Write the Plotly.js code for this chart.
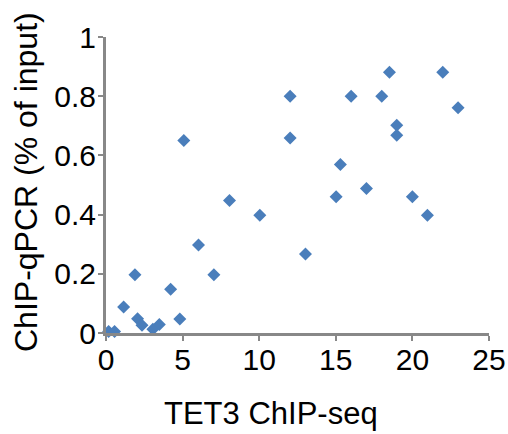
<!DOCTYPE html>
<html>
<head>
<meta charset="utf-8">
<script src="https://cdn.plot.ly/plotly-3.0.1.min.js"></script>
<style>html,body{margin:0;padding:0;background:#fff;}#chart{width:508px;height:434px;}</style>
</head>
<body>
<div id="chart"></div>
<script>
const tet3ChipSeq = [0.17, 0.56, 1.15, 1.89, 2.06, 2.35, 3.06, 3.48, 4.22, 4.82, 5.08, 6.04, 7.04, 8.06, 10.04, 12.02, 12.02, 13.02, 15.02, 15.3, 16.0, 17.0, 18.0, 18.5, 18.98, 18.98, 20.0, 20.98, 21.98, 22.98];
const chipQpcr = [0.005, 0.005, 0.088, 0.197, 0.048, 0.026, 0.013, 0.029, 0.148, 0.047, 0.65, 0.297, 0.197, 0.448, 0.398, 0.80, 0.659, 0.267, 0.46, 0.569, 0.80, 0.488, 0.80, 0.881, 0.702, 0.668, 0.46, 0.398, 0.881, 0.761];
const xTitle = 'TET3 ChIP-seq';
const yTitle = 'ChIP-qPCR (% of input)';

const axisColor = '#888888';
const fontFam = 'Arial, "Liberation Sans", sans-serif';

Plotly.newPlot('chart', [{
  type: 'scatter',
  mode: 'markers',
  x: tet3ChipSeq,
  y: chipQpcr,
  cliponaxis: false,
  marker: {symbol: 'diamond', size: 10, color: '#4A7EBB', line: {width: 0}}
}], {
  width: 508, height: 434,
  margin: {l: 106, r: 19, t: 37, b: 101, pad: 0},
  paper_bgcolor: '#ffffff', plot_bgcolor: '#ffffff',
  showlegend: false,
  font: {family: fontFam, color: '#000000'},
  xaxis: {
    range: [0, 25], dtick: 5, tick0: 0,
    showgrid: false, zeroline: false,
    showline: true, linecolor: axisColor, linewidth: 3,
    ticks: 'outside', ticklen: 5, tickwidth: 2, tickcolor: axisColor,
    tickfont: {size: 30, family: fontFam, color: '#000'},
    ticklabelstandoff: -7,
    automargin: false, fixedrange: true
  },
  yaxis: {
    range: [0, 1], dtick: 0.2, tick0: 0,
    showgrid: false, zeroline: false,
    showline: true, linecolor: axisColor, linewidth: 3,
    ticks: 'outside', ticklen: 5, tickwidth: 2, tickcolor: axisColor,
    tickfont: {size: 30, family: fontFam, color: '#000'},
    ticklabelstandoff: -4,
    automargin: false, fixedrange: true
  },
  annotations: [
    {text: xTitle, xref: 'paper', yref: 'paper', x: 0.432, y: -0.272,
     xanchor: 'center', yanchor: 'middle', showarrow: false,
     font: {size: 31, family: fontFam, color: '#000'}},
    {text: yTitle, xref: 'paper', yref: 'paper', x: -0.209, y: 0.51,
     xanchor: 'center', yanchor: 'middle', showarrow: false, textangle: -90,
     font: {size: 32, family: fontFam, color: '#000'}}
  ]
}, {displayModeBar: false, staticPlot: true});
</script>
</body>
</html>
